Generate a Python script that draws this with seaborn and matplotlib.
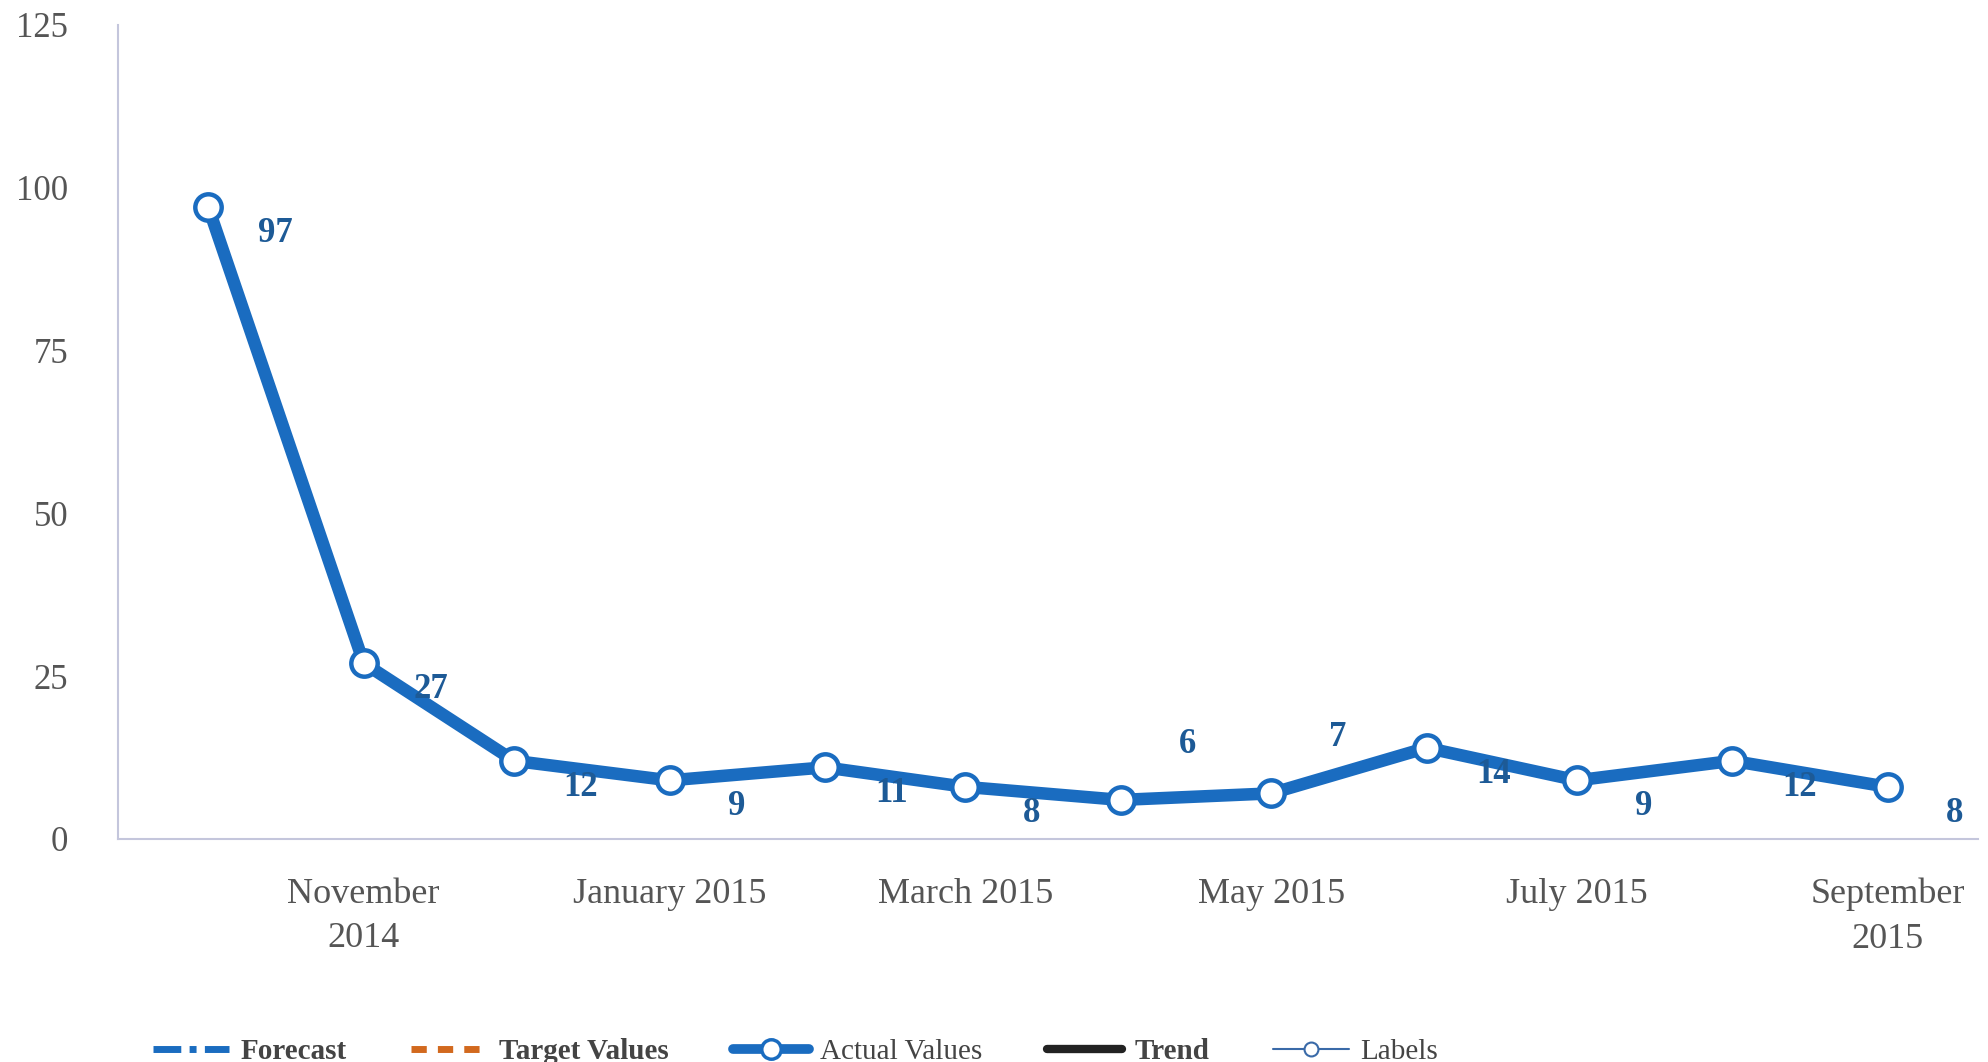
import matplotlib
matplotlib.use("Agg")
import matplotlib.pyplot as plt
from matplotlib.lines import Line2D
import pandas as pd
import seaborn as sns

# monthly counts, Oct 2014 - Sep 2015
months = ["2014-10", "2014-11", "2014-12", "2015-01", "2015-02", "2015-03",
          "2015-04", "2015-05", "2015-06", "2015-07", "2015-08", "2015-09"]
actual = [97, 27, 12, 9, 11, 8, 6, 7, 14, 9, 12, 8]
tick_months = ["2014-11", "2015-01", "2015-03", "2015-05", "2015-07", "2015-09"]
tick_labels = ["November\n2014", "January 2015", "March 2015", "May 2015",
               "July 2015", "September\n2015"]
legend_names = ["Forecast", "Target Values", "Actual Values", "Trend", "Labels"]

BLUE = "#1a6cc0"
LABEL_BLUE = "#1d5a96"
AXIS = "#c4c6dc"
GREY = "#555555"

df = pd.DataFrame({"month": pd.to_datetime(months), "value": actual})

sns.set_style("white")
plt.rcParams["font.family"] = ["Liberation Serif", "DejaVu Serif"]

fig = plt.figure(figsize=(19.88, 10.62), dpi=100)
ax = fig.add_axes([0.0594, 0.21, 0.9356, 0.7665])

sns.lineplot(data=df, x="month", y="value", ax=ax, color=BLUE, linewidth=9,
             marker="o", markersize=19, markerfacecolor="white",
             markeredgecolor=BLUE, markeredgewidth=3.2, zorder=3)

# value labels: right of point, lower; the two low ones sit above
for i, (m, v) in enumerate(zip(df["month"], df["value"])):
    dy = 40 if i in (6, 7) else -19
    ax.annotate(str(v), (m, v), xytext=(48, dy), textcoords="offset points",
                ha="center", va="center", fontsize=25, fontweight="bold",
                color=LABEL_BLUE, zorder=4)

pad = pd.Timedelta(days=18)
ax.set_xlim(df["month"].iloc[0] - pad, df["month"].iloc[-1] + pad)
ax.set_ylim(0, 125)
ax.set_yticks([0, 25, 50, 75, 100, 125])
ax.set_xticks(pd.to_datetime(tick_months))
ax.set_xticklabels(tick_labels, linespacing=1.45)
ax.set_xlabel("")
ax.set_ylabel("")

for side in ("top", "right"):
    ax.spines[side].set_visible(False)
for side in ("left", "bottom"):
    ax.spines[side].set_color(AXIS)
    ax.spines[side].set_linewidth(1.5)
ax.tick_params(axis="both", colors=AXIS, labelcolor=GREY, labelsize=26,
               direction="out", length=22, width=1.2)
ax.tick_params(axis="y", pad=14, labelsize=25)
ax.tick_params(axis="x", pad=6)
ax.grid(False)

handles = [
    Line2D([], [], color=BLUE, linewidth=5, linestyle=(0, (4, 1.2, 1, 1.2))),
    Line2D([], [], color="#d2691e", linewidth=5, linestyle=(0, (2.2, 1.6))),
    Line2D([], [], color=BLUE, linewidth=7, marker="o", markersize=14,
           markerfacecolor="white", markeredgecolor=BLUE, markeredgewidth=2.5),
    Line2D([], [], color="#222222", linewidth=6),
    Line2D([], [], color="#3a6aa8", linewidth=1.5, marker="o", markersize=10,
           markerfacecolor="white", markeredgecolor="#3a6aa8",
           markeredgewidth=1.5),
]
leg = fig.legend(handles, legend_names, loc="center left",
                 bbox_to_anchor=(0.064, 0.010), ncol=5, frameon=False,
                 fontsize=21, handlelength=2.6, columnspacing=2.2,
                 handletextpad=0.4)
for txt, bold in zip(leg.get_texts(), [True, True, False, True, False]):
    txt.set_color("#444444")
    if bold:
        txt.set_fontweight("bold")

fig.savefig("out.png", dpi=100, facecolor="white")
